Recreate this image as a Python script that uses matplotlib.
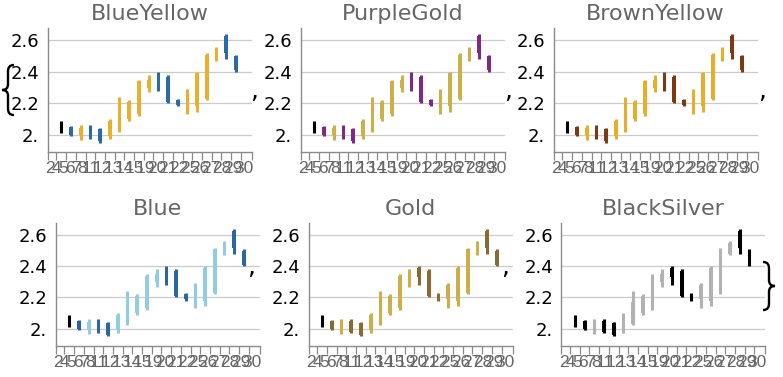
import matplotlib
matplotlib.use("Agg")
import matplotlib.pyplot as plt
from matplotlib.path import Path
from matplotlib.patches import PathPatch, Rectangle

# daily prices (19 trading days)
opens = [2.05, 2.05, 2.00, 2.05, 2.035, 1.99, 2.03, 2.10, 2.13, 2.30,
         2.39, 2.37, 2.22, 2.19, 2.18, 2.23, 2.48, 2.63, 2.50]
highs = [2.09, 2.055, 2.06, 2.06, 2.04, 2.10, 2.24, 2.22, 2.35, 2.38,
         2.40, 2.38, 2.23, 2.29, 2.40, 2.52, 2.56, 2.64, 2.51]
lows = [2.01, 1.99, 1.965, 1.97, 1.95, 1.97, 2.02, 2.09, 2.12, 2.27,
        2.28, 2.20, 2.18, 2.13, 2.145, 2.22, 2.47, 2.48, 2.40]
closes = [2.05, 2.00, 2.04, 1.98, 1.96, 2.09, 2.17, 2.21, 2.34, 2.35,
          2.33, 2.21, 2.19, 2.28, 2.39, 2.51, 2.55, 2.52, 2.41]

day_labels = ['2', '4', '5', '6', '7', '8', '11', '12', '13', '14', '15',
              '19', '20', '21', '22', '25', '26', '27', '28', '29', '30']
y_ticks = [2.0, 2.2, 2.4, 2.6]
y_ticklabels = ['2.', '2.2', '2.4', '2.6']

# style name -> (rising colour, falling colour)
styles = ['BlueYellow', 'PurpleGold', 'BrownYellow', 'Blue', 'Gold', 'BlackSilver']
rise_colors = ['#E8B02E', '#CDB04A', '#E8AE2A', '#92CBE8', '#CDAE48', '#B2B2B2']
fall_colors = ['#2D69A2', '#7E2A85', '#7A3A14', '#2C66A0', '#8A6A33', '#000000']

W, H = 783, 377
fig = plt.figure(figsize=(W / 100, H / 100), dpi=100)


def fx(px):
    return px / W


def fy(py):
    return 1 - py / H


# axes boxes in pixels: left, top, right, bottom
boxes = [(47.7, 28.3, 251.7, 152), (300.7, 28.3, 504.7, 152), (553.7, 28.3, 757.7, 152),
         (55.7, 223.3, 259.7, 345.7), (308.5, 223.3, 512.5, 345.7), (561.3, 223.3, 765.3, 345.7)]

xmin, xmax = -1.4, 19.63
spine_c = '#8a8a8a'

for k, name in enumerate(styles):
    l, t, r, b = boxes[k]
    ax = fig.add_axes([fx(l), fy(b), fx(r) - fx(l), fy(t) - fy(b)])
    ax.set_xlim(xmin, xmax)
    ax.set_ylim(1.89, 2.677)
    for s in ['top', 'right']:
        ax.spines[s].set_visible(False)
    for s in ['left', 'bottom']:
        ax.spines[s].set_color(spine_c)
        ax.spines[s].set_linewidth(1.0)
    for yv in y_ticks:
        ax.axhline(yv, color='#cccccc', lw=0.9, zorder=0)
    ax.set_yticks(y_ticks)
    ax.set_yticklabels(y_ticklabels, fontsize=13, color='black', family='DejaVu Sans')
    ax.tick_params(axis='y', length=0, pad=6)
    xt = [xmin] + [i - 0.5 for i in range(20)] + [xmax]
    ax.set_xticks(xt)
    ax.set_xticklabels([])
    ax.tick_params(axis='x', length=6, width=0.9, color=spine_c, direction='out')

    # candles
    for i in range(len(opens)):
        o, h, lo, c = opens[i], highs[i], lows[i], closes[i]
        if c > o:
            col = rise_colors[k]
        elif c < o:
            col = fall_colors[k]
        else:
            col = 'black'
        ax.plot([i, i], [lo, h], color=col, lw=2.2, solid_capstyle='butt', zorder=3)
        ax.add_patch(Rectangle((i - 0.18, min(o, c)), 0.36, abs(c - o),
                               facecolor=col, edgecolor='none', zorder=3))

    # overlapping day labels under the axis
    cx = 50.3
    prev = None
    for lab in day_labels:
        adv = 6.45 if len(lab) == 1 else 10.9
        if prev is not None:
            cx += (prev + adv) / 2
        prev = adv
        ax.text((cx - 47.7) / 204.0, -16.5 / (b - t), lab, transform=ax.transAxes,
                ha='center', va='center', fontsize=12.5, color='#666666',
                family='Liberation Sans', clip_on=False)

    fig.text(fx((l + r) / 2), fy(t - 14.5), name, ha='center', va='center',
             fontsize=16, color='#666666', family='DejaVu Sans')


# braces and commas of the list display
def brace(x_out, x_tip, y_top, y_bot, lw=1.7):
    ym = (y_top + y_bot) / 2
    d = 1 if x_tip < x_out else -1
    xs = x_out - d * 6
    pts = [(x_out, y_top), (x_out - d * 5, y_top), (xs, y_top + 3), (xs, y_top + 7),
           (xs, ym - 6),
           (xs, ym - 2), (xs - d * 2, ym), (x_tip, ym),
           (xs - d * 2, ym), (xs, ym + 2), (xs, ym + 6),
           (xs, y_bot - 7),
           (xs, y_bot - 3), (x_out - d * 5, y_bot), (x_out, y_bot)]
    codes = [Path.MOVETO, Path.CURVE4, Path.CURVE4, Path.CURVE4, Path.LINETO,
             Path.CURVE4, Path.CURVE4, Path.CURVE4, Path.CURVE4, Path.CURVE4, Path.CURVE4,
             Path.LINETO, Path.CURVE4, Path.CURVE4, Path.CURVE4]
    verts = [(fx(x), fy(y)) for x, y in pts]
    fig.add_artist(PathPatch(Path(verts, codes), transform=fig.transFigure,
                             facecolor='none', edgecolor='black', lw=lw))


brace(14, 2, 65, 115)
brace(763, 775, 262, 310)

for px, py in [(254, 98), (508, 98), (762, 98), (251, 274), (505, 274)]:
    fig.text(fx(px), fy(py), ',', ha='center', va='baseline', fontsize=18,
             color='black', family='DejaVu Sans')

fig.savefig('out.png', dpi=100)
